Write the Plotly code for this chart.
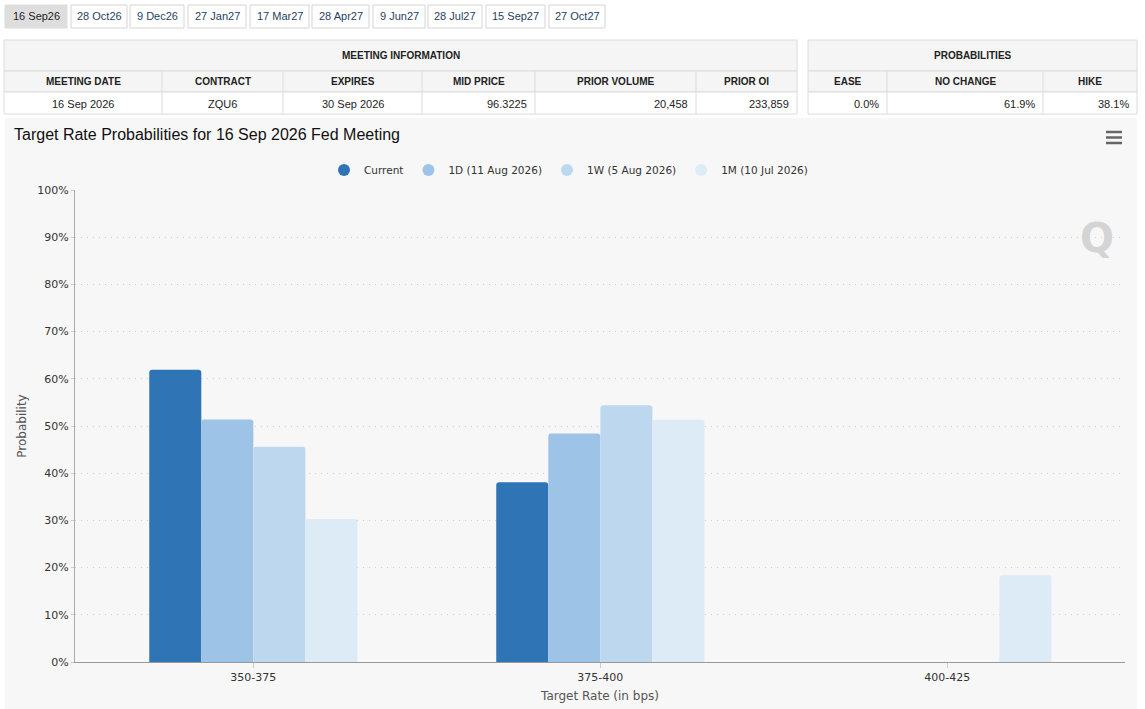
import plotly.graph_objects as go

# chart data
rate_bins = ["350-375", "375-400", "400-425"]
current = [61.9, 38.1, 0.0]
one_day = [51.4, 48.4, 0.0]
one_week = [45.6, 54.4, 0.0]
one_month = [30.3, 51.3, 18.4]
series_names = ["Current", "1D (11 Aug 2026)", "1W (5 Aug 2026)", "1M (10 Jul 2026)"]
series_colors = ["#2f75b5", "#9dc3e6", "#bdd7ee", "#ddebf7"]

# tabs and tables
meeting_tabs = ["16 Sep26", "28 Oct26", "9 Dec26", "27 Jan27", "17 Mar27",
                "28 Apr27", "9 Jun27", "28 Jul27", "15 Sep27", "27 Oct27"]
meeting_headers = ["MEETING DATE", "CONTRACT", "EXPIRES", "MID PRICE", "PRIOR VOLUME", "PRIOR OI"]
meeting_values = ["16 Sep 2026", "ZQU6", "30 Sep 2026", "96.3225", "20,458", "233,859"]
prob_headers = ["EASE", "NO CHANGE", "HIKE"]
prob_values = ["0.0%", "61.9%", "38.1%"]

W, H = 1145, 709
L, R, T, B = 75, 1125, 190, 662


def px(x):
    return (x - L) / (R - L)


def py(y):
    return (B - y) / (B - T)


fig = go.Figure()

all_series = [current, one_day, one_week, one_month]
for name, vals, col in zip(series_names, all_series, series_colors):
    fig.add_trace(go.Bar(x=rate_bins, y=vals, name=name, marker_color=col,
                         marker_line_width=0, showlegend=False,
                         hovertemplate="%{x}: %{y:.1f}%<extra>" + name + "</extra>"))
# legend entries with round markers
for name, col in zip(series_names, series_colors):
    fig.add_trace(go.Scatter(x=[None], y=[None], mode="markers", name=name,
                             marker=dict(symbol="circle", size=11, color=col)))

shapes = []
ann = []


def label(x, y, text, size=11, color="#222222", xanchor="center", family="Liberation Sans, Arial"):
    ann.append(dict(xref="paper", yref="paper", x=px(x), y=py(y), xanchor=xanchor,
                    yanchor="middle", text=text, showarrow=False,
                    font=dict(family=family, size=size, color=color)))


# chart panel background
shapes.append(dict(type="rect", xref="paper", yref="paper", layer="below",
                   x0=px(5), x1=px(1137), y0=py(709), y1=py(118),
                   fillcolor="#f7f7f7", line_width=0))

# tab buttons
tab_edges = [(5, 67), (71, 127), (130, 184), (188, 246), (250, 309),
             (312, 369), (373, 425), (428, 482), (486, 545), (549, 605)]
for i, (lbl, (a, b)) in enumerate(zip(meeting_tabs, tab_edges)):
    sel = i == 0
    shapes.append(dict(type="rect", xref="paper", yref="paper",
                       x0=px(a), x1=px(b), y0=py(28), y1=py(5),
                       fillcolor="#dedede" if sel else "#ffffff",
                       line=dict(color="#d4d4d4" if not sel else "#dedede", width=1)))
    label((a + b) / 2, 16.5, lbl, color="#222222" if sel else "#1f3f5f")


def draw_table(edges, title, headers, values, aligns):
    x0, x1 = edges[0], edges[-1]
    rows = [(40, 71), (71, 92), (92, 114)]
    fills = ["#f5f5f5", "#f5f5f5", "#ffffff"]
    for (ya, yb), f in zip(rows, fills):
        shapes.append(dict(type="rect", xref="paper", yref="paper",
                           x0=px(x0), x1=px(x1), y0=py(yb), y1=py(ya),
                           fillcolor=f, line=dict(color="#dcdcdc", width=1)))
    for e in edges[1:-1]:
        shapes.append(dict(type="line", xref="paper", yref="paper",
                           x0=px(e), x1=px(e), y0=py(114), y1=py(71),
                           line=dict(color="#dcdcdc", width=1)))
    label((x0 + x1) / 2, 55.5, "<b>" + title + "</b>", size=10)
    for i, (hd, v, al) in enumerate(zip(headers, values, aligns)):
        a, b = edges[i], edges[i + 1]
        label((a + b) / 2, 81.5, "<b>" + hd + "</b>", size=10)
        if al == "center":
            label((a + b) / 2, 103.5, v)
        else:
            label(b - 6, 103.5, v, xanchor="right")


draw_table([4, 162, 283, 422, 535, 696, 797], "MEETING INFORMATION",
           meeting_headers, meeting_values,
           ["center", "center", "center", "right", "right", "right"])
draw_table([808, 887, 1043, 1137], "PROBABILITIES",
           prob_headers, prob_values, ["right", "right", "right"])

# chart title
label(12, 134, "Target Rate Probabilities for 16 Sep 2026 Fed Meeting",
      size=16, color="#111111", xanchor="left")

# menu icon
for yy in (132, 137.5, 143):
    shapes.append(dict(type="line", xref="paper", yref="paper",
                       x0=px(1106), x1=px(1122), y0=py(yy), y1=py(yy),
                       line=dict(color="#666666", width=2.5)))

# faint watermark
label(1097, 238, "<b>Q</b>", size=40, color="#d4d4d4", family="DejaVu Sans")

fig.update_layout(
    width=W, height=H,
    margin=dict(l=L, r=W - R, t=T, b=H - B, autoexpand=False),
    paper_bgcolor="#ffffff",
    plot_bgcolor="rgba(0,0,0,0)",
    barmode="group", bargap=0.4, bargroupgap=0, barcornerradius=3,
    font=dict(family="DejaVu Sans", size=11, color="#333333"),
    legend=dict(orientation="h", x=0.47, xanchor="center", y=py(170), yanchor="middle",
                font=dict(size=10.5, color="#333333"), bgcolor="rgba(0,0,0,0)",
                itemsizing="constant"),
    shapes=shapes, annotations=ann,
    xaxis=dict(range=[-0.514, 2.512], showline=True, linecolor="#999999", linewidth=1,
               ticks="outside", ticklen=5, tickcolor="#cccccc",
               title=dict(text="Target Rate (in bps)", standoff=8,
                          font=dict(size=12, color="#555555")),
               tickfont=dict(size=11, color="#333333")),
    yaxis=dict(range=[0, 100], dtick=10, ticksuffix="%",
               showgrid=True, gridcolor="#cfcfcf", griddash="1px,5px", gridwidth=1,
               zeroline=False, showline=True, linecolor="#aaaaaa", linewidth=1,
               ticks="outside", ticklen=3, tickcolor="#cccccc",
               title=dict(text="Probability", standoff=8,
                          font=dict(size=12, color="#555555")),
               tickfont=dict(size=11, color="#333333")),
)

fig.write_html("out.html", config={"displayModeBar": False},
               post_script="document.body.style.margin='0';")
